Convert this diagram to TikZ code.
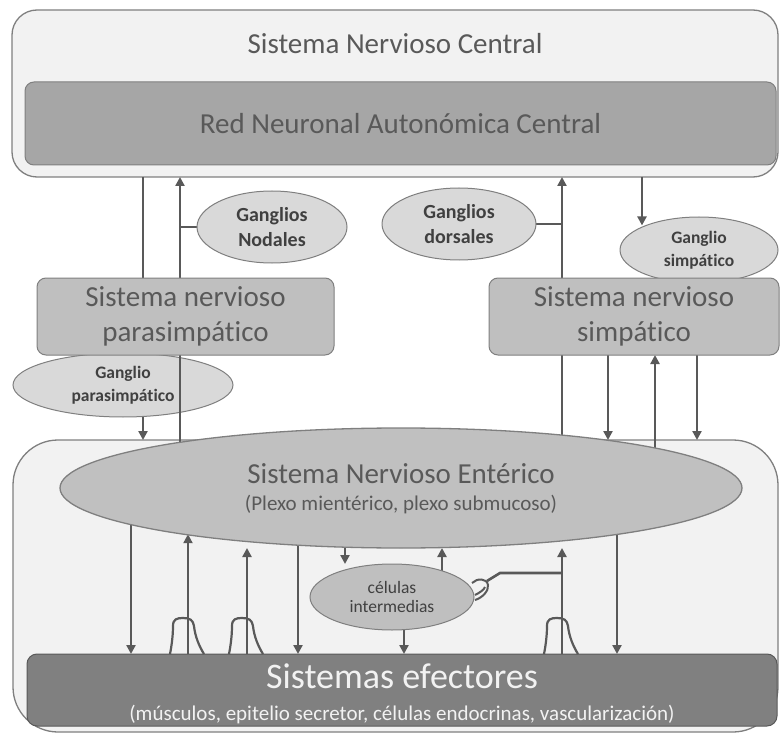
\documentclass[tikz,border=0pt]{standalone}
\usepackage{fontspec}
\setmainfont{Carlito}[Ligatures=NoCommon]
\usetikzlibrary{arrows.meta,shapes.geometric}
\definecolor{edge}{HTML}{7F7F7F}
\definecolor{wirecol}{HTML}{595959}
\definecolor{shellfill}{HTML}{F2F2F2}
\definecolor{corefill}{HTML}{A6A6A6}
\definecolor{sysfill}{HTML}{BFBFBF}
\definecolor{gangfill}{HTML}{D9D9D9}
\definecolor{entfill}{HTML}{C0C0C0}
\definecolor{efffill}{HTML}{808080}
\definecolor{ink}{HTML}{595959}
\definecolor{inkdark}{HTML}{404040}
\pgfdeclarelayer{under}
\pgfdeclarelayer{wires}
\pgfsetlayers{under,wires,main}

\begin{document}
\begin{tikzpicture}[x=1pt, y=-1pt, every node/.style={inner sep=0pt, outer sep=0pt},
  outerbox/.style={draw=edge, line width=1.3pt, fill=shellfill, rounded corners=#1},
  corebox/.style={draw=edge, line width=1pt, fill=corefill, rounded corners=9pt, minimum width=751pt, minimum height=83pt, text=ink, font=\fontsize{29}{35}\selectfont},
  sysbox/.style={draw=edge, line width=1pt, fill=sysfill, rounded corners=9pt, minimum height=77pt, text=ink, align=center, font=\fontsize{29}{35}\selectfont},
  gang/.style={ellipse, draw=edge, line width=1pt, fill=gangfill, text=inkdark, align=center, font=\bfseries\fontsize{20}{25}\selectfont},
  biglbl/.style={text=ink, font=\fontsize{29}{35}\selectfont},
  arr/.style={draw=wirecol, line width=2.6pt, -{Triangle[length=9pt,width=9pt]}},
  wire/.style={draw=wirecol, line width=2.6pt},
  recep/.pic={\draw[wire, line width=2.2pt] (-18,0) .. controls (-16,-10) and (-15,-20) .. (-15,-28) .. controls (-15,-35) and (-11,-36) .. (-5,-36) .. controls (2,-36) and (5,-34) .. (6,-28) .. controls (7,-18) and (11,-8) .. (16,0);},
  bouton/.pic={\draw[wire, line width=2pt] (-15,2) .. controls (-10,-3) and (0,-3) .. (1,4) .. controls (2,10) and (-5,17) .. (-12,19);
    \draw[wire, line width=2pt] (-12,14) .. controls (-8,12) and (-3,9) .. (-2,6);}]
\useasboundingbox (0,0) rectangle (780,733);

\begin{pgfonlayer}{under}
\node[outerbox=25pt, minimum width=766pt, minimum height=167pt] (cns) at (395,93.5) {};
\node[outerbox=45pt, minimum width=765pt, minimum height=292pt] (ensbox) at (395.5,586) {};
\node[gang, minimum width=220pt, minimum height=64pt, font=\bfseries\fontsize{17.5}{23}\selectfont] (gpar) at (123,385) {Ganglio\\parasimpático};
\end{pgfonlayer}

\node[biglbl] (cnslbl) at (395,44) {Sistema Nervioso Central};
\node[corebox] (rna) at (400.5,123.5) {Red Neuronal Autonómica Central};
\node[gang, minimum width=150pt, minimum height=72pt] (gnod) at (272,227) {Ganglios\\Nodales};
\node[gang, minimum width=154pt, minimum height=72pt] (gdor) at (459,224) {Ganglios\\dorsales};
\node[gang, minimum width=158pt, minimum height=66pt, font=\bfseries\fontsize{17.5}{23}\selectfont] (gsim) at (699,250) {Ganglio\\simpático};
\node[sysbox, minimum width=297pt] (par) at (185.5,316.5) {Sistema nervioso\\parasimpático};
\node[sysbox, minimum width=290pt] (sim) at (634,316.5) {Sistema nervioso\\simpático};
\node[ellipse, draw=edge, line width=1.3pt, fill=entfill, minimum width=682pt, minimum height=120pt] (ens) at (401,488) {};
\node[biglbl] (enslbl) at (401,474) {Sistema Nervioso Entérico};
\node[text=ink, font=\fontsize{21}{25}\selectfont] (enssub) at (401,505) {(Plexo mientérico, plexo submucoso)};
\node[ellipse, draw=edge, line width=1pt, fill=sysfill, minimum width=164pt, minimum height=66pt, text=inkdark, align=center, font=\fontsize{17.5}{19}\selectfont] (cel) at (392,597) {células\\intermedias};
\node[draw=wirecol, line width=1pt, fill=efffill, rounded corners=10pt, minimum width=750pt, minimum height=72pt] (eff) at (402,690) {};
\node[text=shellfill, font=\fontsize{36}{40}\selectfont] (efftitle) at (402,676) {Sistemas efectores};
\node[text=shellfill, font=\fontsize{21}{25}\selectfont] (effsub) at (402,715) {(músculos, epitelio secretor, células endocrinas, vascularización)};
\coordinate (jn) at (562,573);
\coordinate (bt) at (487,581);
\pic at (bt) {bouton};
\pic at (188,0 |- eff.north) {recep};
\pic at (247,0 |- eff.north) {recep};
\pic at (562,0 |- eff.north) {recep};

\begin{pgfonlayer}{wires}
\draw[wire] (143,0 |- cns.south) -- (143,0 |- par.north);
\draw[arr] (143,0 |- gpar.south) -- (143,0 |- ensbox.north);
\draw[arr] (180,0 |- ens.center) -- (180,0 |- cns.south);
\draw[wire] (180,0 |- gnod.west) -- (gnod.west);
\draw[arr] (562,0 |- ens.center) -- (562,0 |- cns.south);
\draw[wire] (562,0 |- gdor.east) -- (gdor.east);
\draw[arr] (642,0 |- cns.south) -- (642,0 |- gsim.155);
\draw[arr] (608,0 |- sim.south) -- (608,0 |- ensbox.north);
\draw[arr] (697,0 |- sim.south) -- (697,0 |- ensbox.north);
\draw[arr] (655,0 |- ens.center) -- (655,0 |- sim.south);
\draw[arr] (131,0 |- ens.center) -- (131,0 |- eff.north);
\draw[arr] (298,0 |- ens.center) -- (298,0 |- eff.north);
\draw[arr] (617,0 |- ens.center) -- (617,0 |- eff.north);
\draw[arr] (188,0 |- eff.north) -- (188,0 |- ens.192);
\draw[arr] (247,0 |- eff.north) -- (247,0 |- ens.south);
\draw[arr] (562,0 |- eff.north) -- (562,0 |- ens.south);
\draw[arr] (345,0 |- ens.center) -- (345,0 |- cel.north);
\draw[arr] (442,0 |- cel.center) -- (442,0 |- ens.south);
\draw[arr] (404,0 |- cel.center) -- (404,0 |- eff.north);
\draw[wire] (jn) -- ++(-62,0) -- (bt);
\end{pgfonlayer}
\end{tikzpicture}
\end{document}
